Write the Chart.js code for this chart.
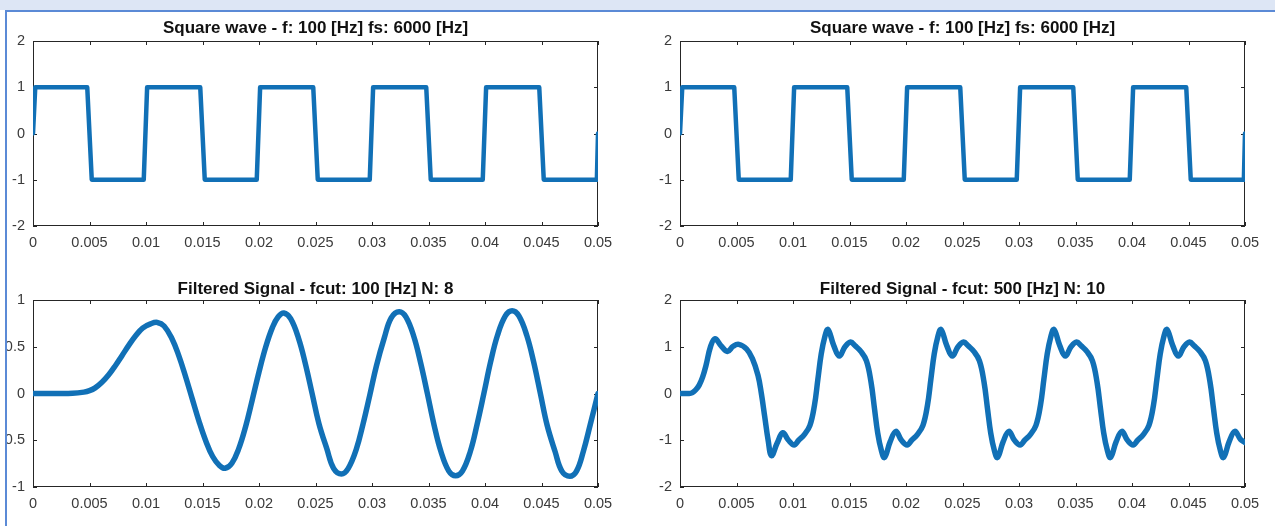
<!DOCTYPE html>
<html>
<head>
<meta charset="utf-8">
<script src="https://cdn.jsdelivr.net/npm/chart.js@4.4.1/dist/chart.umd.min.js"></script>
<style>
  html, body { margin: 0; padding: 0; background: #fff; }
  body { width: 1275px; height: 526px; position: relative; overflow: hidden; }
  #topband { position: absolute; left: 0; top: 0; width: 1275px; height: 10px; background: #dde6f5; }
  #frameTop { position: absolute; left: 5px; top: 10px; width: 1270px; height: 2px; background: #5b8ad6; }
  #frameLeft { position: absolute; left: 5px; top: 10px; width: 2px; height: 516px; background: #5b8ad6; }
  #fig { position: absolute; left: 7px; top: 12px; width: 1268px; height: 514px; overflow: hidden; background: #fff; }
  #fig canvas { position: absolute; }
</style>
</head>
<body>
<div id="topband"></div>
<div id="frameTop"></div>
<div id="frameLeft"></div>
<div id="fig">
  <canvas id="sq1"></canvas>
  <canvas id="sq2"></canvas>
  <canvas id="flt1"></canvas>
  <canvas id="flt2"></canvas>
</div>
<script>
// ---- data ----
const xTicks = [0, 0.005, 0.01, 0.015, 0.02, 0.025, 0.03, 0.035, 0.04, 0.045, 0.05];
const yTicksSquare = [-2, -1, 0, 1, 2];
const yTicksFilt1 = [-1, -0.5, 0, 0.5, 1];
const yTicksFilt2 = [-2, -1, 0, 1, 2];

// square wave corners (f = 100 Hz)
const sqT = [0, 0.0002, 0.0048, 0.0052, 0.0098, 0.0101, 0.0148, 0.0152, 0.0198, 0.0201,
             0.0248, 0.0252, 0.0298, 0.0301, 0.0348, 0.0352, 0.0398, 0.0401, 0.0448, 0.0452,
             0.0499, 0.05];
const sqV = [0, 1, 1, -1, -1, 1, 1, -1, -1, 1,
             1, -1, -1, 1, 1, -1, -1, 1, 1, -1,
             -1, 0];

// low-pass output, fcut 100 Hz, N 8
const f1T = [0, 0.002, 0.0035, 0.0045, 0.005, 0.0055, 0.0061, 0.0067, 0.0073, 0.0079,
             0.0085, 0.0091, 0.0097, 0.0104, 0.011, 0.0116, 0.0123, 0.0129, 0.0135, 0.0141,
             0.0147, 0.0153, 0.0159, 0.0165, 0.017, 0.0176, 0.0182, 0.0188, 0.0194, 0.02,
             0.0206, 0.0212, 0.0217, 0.0222, 0.0228, 0.0235, 0.0241, 0.0247, 0.0253, 0.026,
             0.0266, 0.0273, 0.0279, 0.0286, 0.0292, 0.0298, 0.0304, 0.0311, 0.0317, 0.0324,
             0.033, 0.0337, 0.0343, 0.0349, 0.0355, 0.0361, 0.0368, 0.0374, 0.038, 0.0387,
             0.0393, 0.0399, 0.0405, 0.0411, 0.0418, 0.0424, 0.043, 0.0437, 0.0443, 0.0449,
             0.0455, 0.0462, 0.0468, 0.0475, 0.0481, 0.0487, 0.0493, 0.05];
const f1V = [0, 0, 0.002, 0.015, 0.03, 0.06, 0.12, 0.2, 0.3, 0.41,
             0.52, 0.62, 0.7, 0.745, 0.76, 0.722, 0.586, 0.405, 0.182, -0.06,
             -0.3, -0.51, -0.674, -0.77, -0.8, -0.746, -0.592, -0.36, -0.07, 0.23,
             0.5, 0.71, 0.82, 0.86, 0.8, 0.59, 0.32, 0, -0.32, -0.59,
             -0.8, -0.86, -0.8, -0.6, -0.33, -0.02, 0.3, 0.6, 0.81, 0.875,
             0.82, 0.61, 0.33, 0, -0.34, -0.62, -0.83, -0.88, -0.83, -0.62,
             -0.33, 0, 0.34, 0.62, 0.83, 0.885, 0.83, 0.62, 0.34, 0,
             -0.34, -0.62, -0.83, -0.885, -0.83, -0.62, -0.34, 0];

// low-pass output, fcut 500 Hz, N 10
const f2T = [0, 0.0008, 0.0011, 0.0014, 0.0017, 0.002, 0.0023, 0.0027, 0.0031, 0.0036, 0.0042, 0.0047,
             0.0052, 0.0059, 0.0064, 0.0069, 0.0072, 0.0075, 0.0078, 0.0081, 0.0086, 0.0091, 0.0096, 0.0101,
             0.0105, 0.011, 0.0115, 0.0119, 0.0122, 0.0125, 0.0128, 0.0131, 0.0136, 0.0141, 0.0146, 0.0151,
             0.0155, 0.016, 0.0165, 0.0169, 0.0172, 0.0175, 0.0178, 0.0181, 0.0186, 0.0191, 0.0196, 0.0201,
             0.0205, 0.021, 0.0215, 0.0219, 0.0222, 0.0225, 0.0228, 0.0231, 0.0236, 0.0241, 0.0246, 0.0251,
             0.0255, 0.026, 0.0265, 0.0269, 0.0272, 0.0275, 0.0278, 0.0281, 0.0286, 0.0291, 0.0296, 0.0301,
             0.0305, 0.031, 0.0315, 0.0319, 0.0322, 0.0325, 0.0328, 0.0331, 0.0336, 0.0341, 0.0346, 0.0351,
             0.0355, 0.036, 0.0365, 0.0369, 0.0372, 0.0375, 0.0378, 0.0381, 0.0386, 0.0391, 0.0396, 0.0401,
             0.0405, 0.041, 0.0415, 0.0419, 0.0422, 0.0425, 0.0428, 0.0431, 0.0436, 0.0441, 0.0446, 0.0451,
             0.0455, 0.046, 0.0465, 0.0469, 0.0472, 0.0475, 0.0478, 0.0481, 0.0486, 0.0491, 0.0496, 0.05];
const f2V = [0, 0, 0.02, 0.08, 0.18, 0.35, 0.6, 1.0, 1.17, 1.03, 0.9, 1.01,
             1.05, 0.95, 0.75, 0.39, 0, -0.5, -1.0, -1.33, -1.06, -0.84, -1.0, -1.1,
             -1.0, -0.88, -0.68, -0.25, 0.3, 0.85, 1.2, 1.37, 1.03, 0.8, 1.0, 1.1,
             1.02, 0.9, 0.7, 0.25, -0.3, -0.85, -1.2, -1.37, -1.03, -0.81, -1.0, -1.1,
             -1.0, -0.88, -0.68, -0.25, 0.3, 0.85, 1.2, 1.37, 1.03, 0.8, 1.0, 1.1,
             1.02, 0.9, 0.7, 0.25, -0.3, -0.85, -1.2, -1.37, -1.03, -0.81, -1.0, -1.1,
             -1.0, -0.88, -0.68, -0.25, 0.3, 0.85, 1.2, 1.37, 1.03, 0.8, 1.0, 1.1,
             1.02, 0.9, 0.7, 0.25, -0.3, -0.85, -1.2, -1.37, -1.03, -0.81, -1.0, -1.1,
             -1.0, -0.88, -0.68, -0.25, 0.3, 0.85, 1.2, 1.37, 1.03, 0.8, 1.0, 1.1,
             1.02, 0.9, 0.7, 0.25, -0.3, -0.85, -1.2, -1.37, -1.03, -0.81, -0.98, -1.05];

// ---- look ----
const FONT = '"Liberation Sans", Arial, Helvetica, sans-serif';
const AXIS_COLOR = '#262626';
const LINE_COLOR = '#1170b6';
const TICK_FONT = 14.5;
const TITLE_FONT = 17;
const TICK_LEN = 4;
const FIG_X = 7, FIG_Y = 12;   // page offset of the figure div

// MATLAB-like axes box with inward ticks on all four sides
const axesBox = {
    id: 'axesBox',
    beforeDatasetsDraw(chart) {
        const { ctx, chartArea: a, scales: { x, y } } = chart;
        ctx.save();
        ctx.strokeStyle = AXIS_COLOR;
        ctx.lineWidth = 1;
        ctx.strokeRect(a.left + 0.5, a.top + 0.5, a.right - a.left - 1, a.bottom - a.top - 1);
        ctx.beginPath();
        x.ticks.forEach(t => {
            const px = Math.round(x.getPixelForValue(t.value)) + 0.5;
            ctx.moveTo(px, a.bottom); ctx.lineTo(px, a.bottom - TICK_LEN);
            ctx.moveTo(px, a.top); ctx.lineTo(px, a.top + TICK_LEN);
        });
        y.ticks.forEach(t => {
            const py = Math.round(y.getPixelForValue(t.value)) + 0.5;
            ctx.moveTo(a.left, py); ctx.lineTo(a.left + TICK_LEN, py);
            ctx.moveTo(a.right, py); ctx.lineTo(a.right - TICK_LEN, py);
        });
        ctx.stroke();
        ctx.restore();
    }
};

function drawPanel(id, box, area, titleY, title, xs, ys, yTicks, smooth, lineWidth) {
    const cv = document.getElementById(id);
    cv.width = box.w;
    cv.height = box.h;
    cv.style.left = (box.x - FIG_X) + 'px';
    cv.style.top = (box.y - FIG_Y) + 'px';
    cv.style.width = box.w + 'px';
    cv.style.height = box.h + 'px';

    // chart area in canvas coordinates
    const left = area.l - box.x, right = area.r - box.x;
    const top = area.t - box.y, bottom = area.b - box.y;
    const tLine = TITLE_FONT * 1.2;
    const tCenter = titleY - box.y;

    new Chart(cv, {
        type: 'line',
        data: {
            datasets: [{
                data: xs.map((x, i) => ({ x: x, y: ys[i] })),
                borderColor: LINE_COLOR,
                borderWidth: lineWidth,
                pointRadius: 0,
                fill: false,
                tension: smooth ? 0.4 : 0,
                borderJoinStyle: 'round',
                borderCapStyle: 'round'
            }]
        },
        options: {
            responsive: false,
            animation: false,
            devicePixelRatio: 1,
            layout: { padding: { left: 0, top: 0, right: box.w - right, bottom: 0 } },
            plugins: {
                legend: { display: false },
                tooltip: { enabled: false },
                title: {
                    display: true,
                    fullSize: false,
                    text: title,
                    color: '#111',
                    font: { family: FONT, size: TITLE_FONT, weight: 'bold' },
                    padding: { top: tCenter - tLine / 2, bottom: top - tCenter - tLine / 2 }
                }
            },
            scales: {
                x: {
                    type: 'linear',
                    min: 0,
                    max: 0.05,
                    grid: { display: false, drawTicks: false },
                    border: { display: false },
                    ticks: {
                        color: '#3a3a3a',
                        font: { family: FONT, size: TICK_FONT },
                        padding: 8,
                        autoSkip: false,
                        maxRotation: 0,
                        callback: v => String(v)
                    },
                    afterBuildTicks: s => { s.ticks = xTicks.map(v => ({ value: v })); },
                    afterFit: s => { s.height = box.h - bottom; }
                },
                y: {
                    type: 'linear',
                    min: yTicks[0],
                    max: yTicks[yTicks.length - 1],
                    grid: { display: false, drawTicks: false },
                    border: { display: false },
                    ticks: {
                        color: '#3a3a3a',
                        font: { family: FONT, size: TICK_FONT },
                        padding: 8,
                        callback: v => String(v)
                    },
                    afterBuildTicks: s => { s.ticks = yTicks.map(v => ({ value: v })); },
                    afterFit: s => { s.width = left; }
                }
            }
        },
        plugins: [axesBox]
    });
}

const sqTitle = 'Square wave - f: 100 [Hz] fs: 6000 [Hz]';

drawPanel('sq1', { x: 0, y: 12, w: 640, h: 254 }, { l: 33, r: 598, t: 41, b: 226 }, 28,
          sqTitle, sqT, sqV, yTicksSquare, false, 4.5);
drawPanel('sq2', { x: 640, y: 12, w: 635, h: 254 }, { l: 680, r: 1245, t: 41, b: 226 }, 28,
          sqTitle, sqT, sqV, yTicksSquare, false, 4.5);
drawPanel('flt1', { x: 0, y: 266, w: 640, h: 260 }, { l: 33, r: 598, t: 300, b: 487 }, 289,
          'Filtered Signal - fcut: 100 [Hz] N: 8', f1T, f1V, yTicksFilt1, true, 5.5);
drawPanel('flt2', { x: 640, y: 266, w: 635, h: 260 }, { l: 680, r: 1245, t: 300, b: 487 }, 289,
          'Filtered Signal - fcut: 500 [Hz] N: 10', f2T, f2V, yTicksFilt2, true, 5.5);
</script>
</body>
</html>
